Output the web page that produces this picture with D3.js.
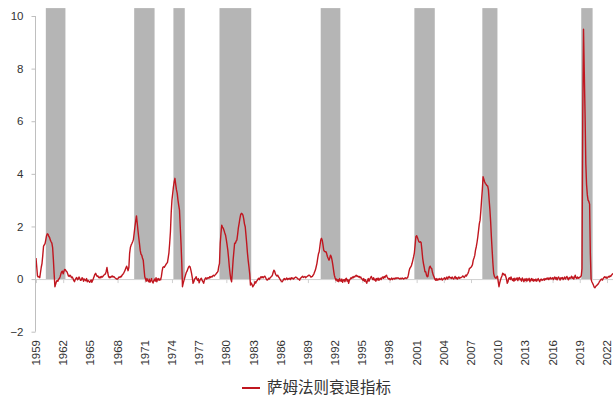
<!DOCTYPE html>
<html lang="zh">
<head>
<meta charset="UTF-8" />
<title>萨姆法则衰退指标</title>
<script src="https://d3js.org/d3.v7.min.js"></script>
<style>
  body { margin: 0; background: #fff; }
  svg { display: block; font-family: "Liberation Sans", Arial, sans-serif; }
</style>
</head>
<body>
<svg id="chart" width="613" height="396"></svg>
<script>
// monthly values, one row per year, starting Jan 1959
const startMonth = "1959-01";
const sahmValues = [
  0.80, 0.45, 0.12, 0.08, 0.10, 0.05, 0.25, 0.45, 0.60, 0.90, 1.25, 1.30, // 1959
  1.35, 1.50, 1.65, 1.72, 1.70, 1.62, 1.58, 1.48, 1.42, 1.37, 1.20, 0.75, // 1960
  0.20, -0.29, -0.20, -0.10, -0.05, -0.08, 0.00, 0.02, 0.10, 0.20, 0.28, 0.30, // 1961
  0.20, 0.30, 0.37, 0.35, 0.30, 0.28, 0.20, 0.12, 0.10, 0.15, 0.12, 0.05, // 1962
  0.08, 0.02, -0.05, -0.10, -0.02, 0.03, 0.06, -0.03, 0.00, 0.08, 0.02, -0.05, // 1963
  -0.04, 0.05, 0.02, -0.08, 0.00, -0.03, -0.06, 0.02, -0.10, -0.05, -0.08, -0.12, // 1964
  -0.08, -0.03, -0.12, -0.05, 0.02, 0.10, 0.18, 0.22, 0.15, 0.10, 0.12, 0.06, // 1965
  0.05, 0.09, 0.05, 0.10, 0.08, 0.12, 0.15, 0.18, 0.20, 0.30, 0.44, 0.25, // 1966
  0.10, 0.05, 0.09, 0.06, 0.10, 0.12, 0.08, 0.10, 0.06, 0.04, 0.02, 0.00, // 1967
  0.00, 0.04, 0.08, 0.06, 0.10, 0.09, 0.15, 0.18, 0.22, 0.28, 0.34, 0.42, // 1968
  0.49, 0.40, 0.32, 0.45, 0.98, 1.20, 1.29, 1.35, 1.42, 1.50, 1.75, 1.99, // 1969
  2.20, 2.40, 2.15, 1.86, 1.60, 1.36, 1.10, 0.95, 0.91, 0.80, 0.72, 0.40, // 1970
  0.09, 0.00, -0.08, 0.02, -0.05, -0.10, 0.00, -0.12, -0.05, 0.02, -0.10, -0.15, // 1971
  -0.05, 0.00, -0.08, 0.05, -0.10, 0.00, 0.02, -0.05, 0.00, -0.03, 0.10, 0.30, // 1972
  0.45, 0.47, 0.45, 0.50, 0.55, 0.60, 0.62, 0.80, 1.00, 1.36, 1.80, 2.50, // 1973
  3.00, 3.26, 3.50, 3.70, 3.83, 3.60, 3.40, 3.26, 3.00, 2.80, 2.62, 2.00, // 1974
  1.36, 0.60, -0.29, -0.15, -0.05, 0.05, 0.15, 0.25, 0.30, 0.38, 0.45, 0.49, // 1975
  0.47, 0.35, 0.22, 0.05, -0.16, -0.10, 0.00, 0.03, 0.09, 0.00, -0.05, 0.02, // 1976
  -0.14, -0.05, 0.00, 0.03, -0.05, -0.10, -0.16, -0.05, 0.02, 0.05, 0.00, 0.04, // 1977
  0.05, 0.03, 0.09, 0.06, 0.10, 0.08, 0.12, 0.15, 0.12, 0.15, 0.18, 0.22, // 1978
  0.25, 0.30, 0.47, 0.60, 1.36, 1.75, 2.05, 1.98, 1.93, 1.85, 1.75, 1.67, // 1979
  1.50, 1.30, 1.10, 0.80, 0.47, 0.20, 0.00, -0.10, 0.30, 0.72, 1.05, 1.36, // 1980
  1.36, 1.45, 1.48, 1.70, 1.95, 2.12, 2.30, 2.45, 2.50, 2.48, 2.43, 2.30, // 1981
  2.10, 1.99, 1.70, 1.36, 1.00, 0.70, 0.47, 0.20, -0.23, -0.15, -0.20, -0.29, // 1982
  -0.25, -0.20, -0.10, -0.15, -0.08, -0.05, 0.00, 0.03, -0.02, 0.05, 0.09, 0.05, // 1983
  0.09, 0.05, 0.09, 0.11, 0.06, 0.00, -0.04, -0.02, 0.03, 0.00, 0.05, 0.08, // 1984
  0.10, 0.15, 0.25, 0.34, 0.30, 0.20, 0.15, 0.12, 0.15, 0.09, 0.05, 0.00, // 1985
  -0.05, -0.08, -0.10, -0.06, 0.00, 0.02, -0.03, 0.00, 0.04, -0.02, 0.02, 0.00, // 1986
  0.03, -0.02, 0.05, 0.02, 0.04, 0.00, 0.03, 0.06, 0.08, 0.06, 0.03, 0.00, // 1987
  0.00, -0.04, 0.02, 0.05, 0.08, 0.11, 0.06, 0.08, 0.10, 0.05, 0.08, 0.10, // 1988
  0.12, 0.15, 0.15, 0.12, 0.08, 0.09, 0.10, 0.15, 0.20, 0.28, 0.35, 0.47, // 1989
  0.60, 0.80, 0.95, 1.04, 1.25, 1.48, 1.55, 1.48, 1.30, 1.10, 1.05, 1.04, // 1990
  1.04, 0.95, 0.85, 0.78, 0.72, 0.80, 0.91, 0.85, 0.72, 0.55, 0.34, 0.15, // 1991
  0.05, -0.04, 0.00, -0.08, -0.02, -0.10, 0.02, -0.05, -0.08, 0.00, -0.12, -0.04, // 1992
  -0.02, -0.10, 0.00, 0.03, -0.08, -0.02, -0.16, -0.05, 0.00, 0.05, 0.02, 0.08, // 1993
  0.05, 0.10, 0.08, 0.12, 0.15, 0.10, 0.12, 0.08, 0.10, 0.05, 0.08, 0.02, // 1994
  0.00, -0.05, 0.02, -0.08, -0.02, -0.10, -0.16, -0.05, 0.02, -0.08, 0.00, 0.05, // 1995
  0.10, 0.03, -0.02, 0.05, -0.04, 0.00, -0.08, 0.02, -0.03, 0.04, -0.05, 0.00, // 1996
  0.03, -0.02, 0.05, 0.08, 0.03, 0.10, 0.05, 0.12, 0.15, 0.08, 0.03, 0.00, // 1997
  0.02, -0.03, 0.00, 0.04, -0.02, 0.02, 0.03, 0.00, 0.04, 0.02, 0.05, 0.03, // 1998
  0.04, 0.02, 0.00, 0.03, 0.01, 0.04, 0.02, 0.00, 0.03, 0.05, 0.02, 0.04, // 1999
  0.05, 0.15, 0.30, 0.41, 0.45, 0.50, 0.60, 0.72, 0.85, 1.00, 1.30, 1.61, // 2000
  1.65, 1.58, 1.50, 1.42, 1.40, 1.42, 1.38, 1.10, 0.79, 0.60, 0.45, 0.28, // 2001
  0.28, 0.15, 0.09, 0.10, 0.30, 0.45, 0.49, 0.42, 0.40, 0.25, 0.15, 0.09, // 2002
  0.00, -0.04, 0.02, -0.05, 0.00, -0.03, 0.02, -0.02, 0.00, 0.03, -0.04, 0.00, // 2003
  0.02, 0.05, -0.02, 0.03, 0.08, 0.00, 0.05, 0.10, 0.04, 0.06, 0.02, 0.08, // 2004
  0.03, 0.00, 0.05, 0.10, 0.02, 0.06, 0.00, 0.04, 0.08, 0.03, 0.05, 0.06, // 2005
  0.08, 0.12, 0.10, 0.06, 0.10, 0.15, 0.12, 0.18, 0.22, 0.30, 0.41, 0.42, // 2006
  0.45, 0.49, 0.55, 0.72, 0.80, 0.90, 1.10, 1.23, 1.40, 1.60, 1.85, 2.10, // 2007
  2.24, 2.60, 3.00, 3.40, 3.89, 3.80, 3.70, 3.64, 3.60, 3.55, 3.54, 3.40, // 2008
  3.00, 2.62, 2.20, 1.60, 1.10, 0.60, 0.22, 0.10, 0.05, 0.03, 0.08, 0.11, // 2009
  -0.10, -0.29, -0.15, -0.04, 0.05, 0.12, 0.22, 0.20, 0.15, 0.18, 0.10, 0.00, // 2010
  -0.16, -0.10, 0.03, 0.05, -0.02, 0.08, 0.00, -0.05, 0.02, -0.08, 0.03, -0.04, // 2011
  0.00, 0.05, -0.06, 0.02, 0.06, -0.03, 0.00, -0.08, 0.04, -0.02, -0.10, 0.00, // 2012
  -0.05, 0.02, -0.08, 0.00, -0.04, 0.03, -0.10, -0.03, 0.02, -0.06, 0.00, -0.08, // 2013
  -0.02, -0.06, 0.00, -0.08, -0.03, 0.02, -0.05, -0.10, -0.02, 0.00, -0.05, -0.03, // 2014
  0.00, -0.04, 0.02, -0.02, 0.03, 0.00, 0.05, -0.02, 0.02, 0.06, 0.00, 0.03, // 2015
  0.05, -0.02, 0.04, 0.08, 0.00, 0.06, -0.03, 0.04, 0.08, 0.02, -0.04, 0.05, // 2016
  0.02, 0.06, -0.02, 0.03, 0.08, 0.00, 0.05, 0.10, 0.02, -0.03, 0.06, 0.02, // 2017
  0.05, 0.11, 0.03, 0.08, 0.00, 0.06, 0.15, 0.05, 0.02, 0.08, 0.03, 0.06, // 2018
  0.05, 0.10, 0.12, 0.40, 6.20, 9.50, 7.90, 6.30, 4.40, 3.60, 3.20, 3.00, // 2019
  2.95, 2.85, 1.00, 0.00, -0.10, -0.16, -0.22, -0.30, -0.33, -0.29, -0.25, -0.23, // 2020
  -0.20, -0.15, -0.10, -0.06, -0.02, 0.00, -0.04, 0.02, 0.06, 0.09, 0.05, 0.08, // 2021
  0.03, 0.06, 0.10, 0.08, 0.12, 0.10, 0.15, 0.18, 0.22 // 2022
];

// shaded periods
const bandStarts = ["1960-02", "1969-11", "1974-03", "1979-04", "1990-06", "2000-10", "2008-04", "2019-03"];
const bandEnds   = ["1962-04", "1972-02", "1975-06", "1982-10", "1992-08", "2003-01", "2009-12", "2020-06"];
const bandTop = 10.3;

const tickYears = [1959, 1962, 1965, 1968, 1971, 1974, 1977, 1980, 1983, 1986, 1989,
                   1992, 1995, 1998, 2001, 2004, 2007, 2010, 2013, 2016, 2019, 2022];
const yTicks = [-2, 0, 2, 4, 6, 8, 10];
const seriesName = "萨姆法则衰退指标";

const parseMonth = d3.timeParse("%Y-%m");
const first = parseMonth(startMonth);
const data = sahmValues.map((v, i) => ({ date: d3.timeMonth.offset(first, i), value: v }));

const svg = d3.select("#chart");
const red = "#c0161f";

const x = d3.scaleTime()
  .domain([first, data[data.length - 1].date])
  .range([36, 613]);
const y = d3.scaleLinear()
  .domain([-2, 10])
  .range([331.7, 16]);

// bands
svg.append("g").selectAll("rect")
  .data(bandStarts.map((s, i) => [parseMonth(s), parseMonth(bandEnds[i])]))
  .join("rect")
  .attr("x", d => x(d[0]))
  .attr("width", d => x(d[1]) - x(d[0]))
  .attr("y", y(bandTop))
  .attr("height", y(0) - y(bandTop))
  .attr("fill", "#b5b5b5");

// x axis along zero
const xAxis = d3.axisBottom(x)
  .tickValues(tickYears.map(yr => new Date(yr, 0, 1)))
  .tickSize(4)
  .tickFormat("");
const gx = svg.append("g")
  .attr("transform", `translate(0,${y(0)})`)
  .call(xAxis);
gx.select(".domain").attr("stroke", "#d0d0d0").attr("d", `M35.5,0.5H613`);
gx.selectAll(".tick line").attr("stroke", "#d0d0d0");

// rotated year labels
svg.append("g").selectAll("text")
  .data(tickYears)
  .join("text")
  .attr("transform", d => `translate(${x(new Date(d, 0, 1))},340) rotate(-90)`)
  .attr("text-anchor", "end")
  .attr("dy", "0.35em")
  .attr("font-size", 11.5)
  .attr("fill", "#333")
  .text(d => d);

// line
svg.append("path")
  .datum(data)
  .attr("fill", "none")
  .attr("stroke", red)
  .attr("stroke-width", 1.4)
  .attr("stroke-linejoin", "round")
  .attr("d", d3.line().x(d => x(d.date)).y(d => y(d.value)));

// y axis
const gy = svg.append("g")
  .attr("transform", "translate(35.5,0)")
  .call(d3.axisLeft(y).tickValues(yTicks).tickSize(4).tickPadding(8).tickFormat(d3.format("d")));
gy.select(".domain").attr("stroke", "#bfbfbf").attr("d", `M0,${y(10)}V${y(-2)}`);
gy.selectAll(".tick line").attr("stroke", "#bfbfbf");
gy.selectAll(".tick text")
  .attr("font-size", 11.5)
  .attr("fill", "#333")
  .attr("font-family", "'Liberation Sans', Arial, sans-serif");

// legend
const lg = svg.append("g").attr("transform", "translate(242,388)");
lg.append("line").attr("x1", 0).attr("x2", 18).attr("stroke", red).attr("stroke-width", 2);
lg.append("text")
  .attr("x", 25)
  .attr("dy", "0.35em")
  .attr("font-size", 15.5)
  .attr("font-family", "'Noto Sans CJK SC', sans-serif")
  .attr("fill", "#333")
  .text(seriesName);
</script>
</body>
</html>
